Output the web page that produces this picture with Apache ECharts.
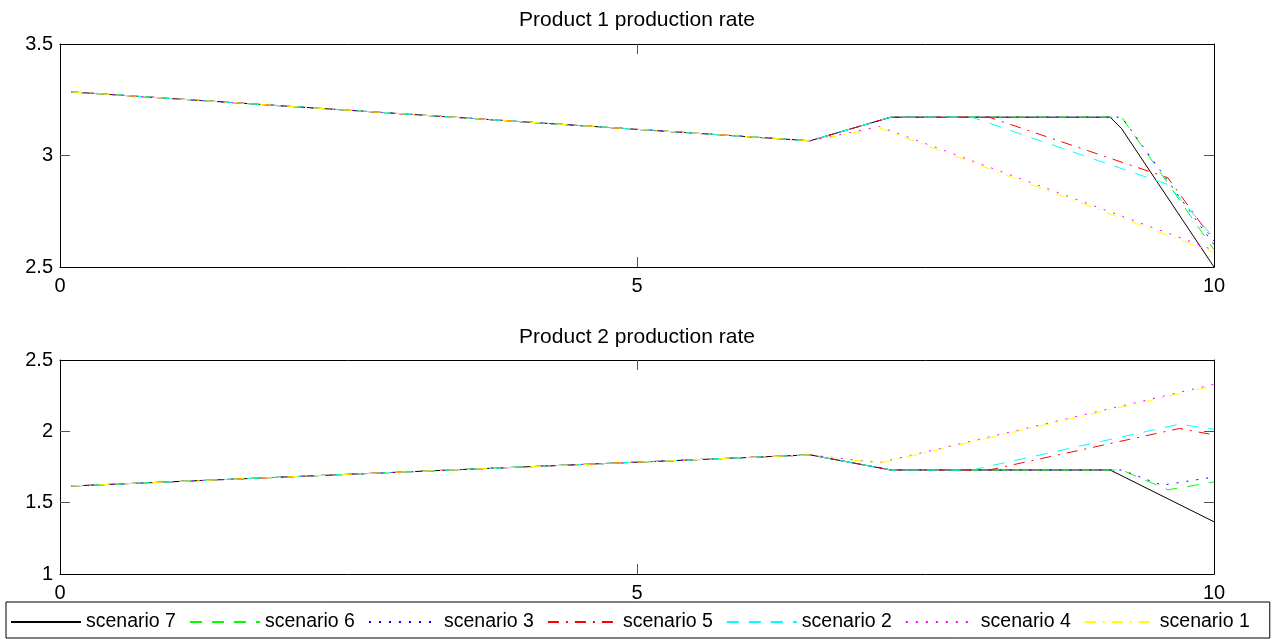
<!DOCTYPE html>
<html>
<head>
<meta charset="utf-8">
<script src="https://cdn.jsdelivr.net/npm/echarts@6/dist/echarts.min.js"></script>
<style>
html,body{margin:0;padding:0;background:#fff;}
#c{width:1274px;height:639px;}
</style>
</head>
<body>
<div id="c"></div>
<script>
// ---- data ----
const seriesNames = ['scenario 7','scenario 6','scenario 3','scenario 5','scenario 2','scenario 4','scenario 1'];
const titles = ['Product 1 production rate','Product 2 production rate'];
const xTicks = [0, 5, 10];
const y1Ticks = [2.5, 3, 3.5];
const y2Ticks = [1, 1.5, 2, 2.5];

// Product 1: [time, rate]
const p1_s7 = [[0.1,3.285],[6.5,3.066],[7.2,3.172],[9.1,3.172],[9.2,3.12],[10,2.5]];
const p1_s6 = [[0.1,3.285],[6.5,3.066],[7.2,3.172],[9.2,3.172],[10,2.578]];
const p1_s3 = [[0.1,3.285],[6.5,3.066],[7.2,3.172],[9.2,3.172],[10,2.6]];
const p1_s5 = [[0.1,3.285],[6.5,3.066],[7.2,3.172],[8.05,3.172],[9.6,2.9],[10,2.615]];
const p1_s2 = [[0.1,3.285],[6.5,3.066],[7.2,3.172],[7.9,3.172],[9.6,2.87],[10,2.63]];
const p1_s4 = [[0.1,3.285],[6.5,3.066],[7.1,3.13],[10,2.575]];
const p1_s1 = [[0.1,3.285],[6.5,3.066],[7.1,3.123],[10,2.565]];

// Product 2: [time, rate]
const p2_s7 = [[0.1,1.617],[6.5,1.835],[7.2,1.729],[9.1,1.729],[10,1.366]];
const p2_s6 = [[0.1,1.617],[6.5,1.835],[7.2,1.729],[9.2,1.729],[9.6,1.59],[10,1.645]];
const p2_s3 = [[0.1,1.617],[6.5,1.835],[7.2,1.729],[9.2,1.729],[9.55,1.622],[10,1.68]];
const p2_s5 = [[0.1,1.617],[6.5,1.835],[7.2,1.729],[8.05,1.729],[9.7,2.02],[10,1.975]];
const p2_s2 = [[0.1,1.617],[6.5,1.835],[7.2,1.729],[7.9,1.729],[9.7,2.05],[10,2.015]];
const p2_s4 = [[0.1,1.617],[6.5,1.835],[7.1,1.78],[10,2.33]];
const p2_s1 = [[0.1,1.617],[6.5,1.835],[7.1,1.776],[10,2.32]];

const p1Data = [p1_s7,p1_s6,p1_s3,p1_s5,p1_s2,p1_s4,p1_s1];
const p2Data = [p2_s7,p2_s6,p2_s3,p2_s5,p2_s2,p2_s4,p2_s1];

// ---- styles ----
const FONT = '"Liberation Sans", Arial, Helvetica, sans-serif';
const colors = ['#000000','#00ff00','#0000ff','#ff0000','#00ffff','#ff00ff','#ffff00'];
const dashTypes = ['solid',[12,10],[2,8],[11,7,2,7],[12,10],[2,8],[11,7,2,7]];
const FS = 20;

function mkX(gi, pos){
  const bottom = pos === 'bottom';
  return {
    type:'value', gridIndex:gi, position:pos, min:0, max:10, interval:5,
    axisLine:{show:true, onZero:false, lineStyle:{color:'#000', width:1}},
    axisTick:{show:true, inside:true, length:10, customValues:[5], lineStyle:{color:'#555', width:1}},
    axisLabel:{show:bottom, color:'#000', fontSize:FS, fontFamily:FONT, margin:9,
               customValues: xTicks},
    splitLine:{show:false}
  };
}
function mkY(gi, pos, mn, mx, ticks){
  const left = pos === 'left';
  return {
    type:'value', gridIndex:gi, position:pos, min:mn, max:mx, interval:0.5,
    axisLine:{show:true, onZero:false, lineStyle:{color:'#000', width:1}},
    axisTick:{show:true, inside:true, length:10, customValues:ticks.slice(1,-1), lineStyle:{color:'#555', width:1}},
    axisLabel:{show:left, color:'#000', fontSize:FS, fontFamily:FONT, margin:7, customValues:ticks},
    splitLine:{show:false}
  };
}

const series = [];
[p1Data, p2Data].forEach((set, gi) => {
  set.forEach((d, i) => {
    series.push({
      name: seriesNames[i], type:'line', xAxisIndex: gi*2, yAxisIndex: gi*2,
      data: d, symbol:'none', showSymbol:false, silent:true,
      lineStyle:{color:colors[i], width:1, type:dashTypes[i]},
      itemStyle:{color:colors[i]}
    });
  });
});

const option = {
  animation:false,
  backgroundColor:'#fff',
  title:[
    {text:titles[0], left:'center', top:10, padding:0, textStyle:{fontSize:21, fontWeight:'normal', color:'#000', fontFamily:FONT}},
    {text:titles[1], left:'center', top:327, padding:0, textStyle:{fontSize:21, fontWeight:'normal', color:'#000', fontFamily:FONT}}
  ],
  grid:[
    {left:60, top:44, width:1154, height:223},
    {left:60, top:360, width:1154, height:214}
  ],
  xAxis:[mkX(0,'bottom'), mkX(0,'top'), mkX(1,'bottom'), mkX(1,'top')],
  yAxis:[mkY(0,'left',2.5,3.5,y1Ticks), mkY(0,'right',2.5,3.5,y1Ticks),
         mkY(1,'left',1,2.5,y2Ticks), mkY(1,'right',1,2.5,y2Ticks)],
  legend:{
    data: seriesNames, left:6, top:602, width:1400, orient:'horizontal',
    itemWidth:70, itemHeight:14, itemGap:13,
    padding:[10,20,6,4],
    borderColor:'#000', borderWidth:1, backgroundColor:'#fff',
    selectedMode:false,
    itemStyle:{color:'transparent', borderWidth:0, opacity:0},
    textStyle:{fontSize:19.5, color:'#000', fontFamily:FONT}
  },
  series: series
};

const chart = echarts.init(document.getElementById('c'), null, {renderer:'canvas'});
chart.setOption(option);
</script>
</body>
</html>
